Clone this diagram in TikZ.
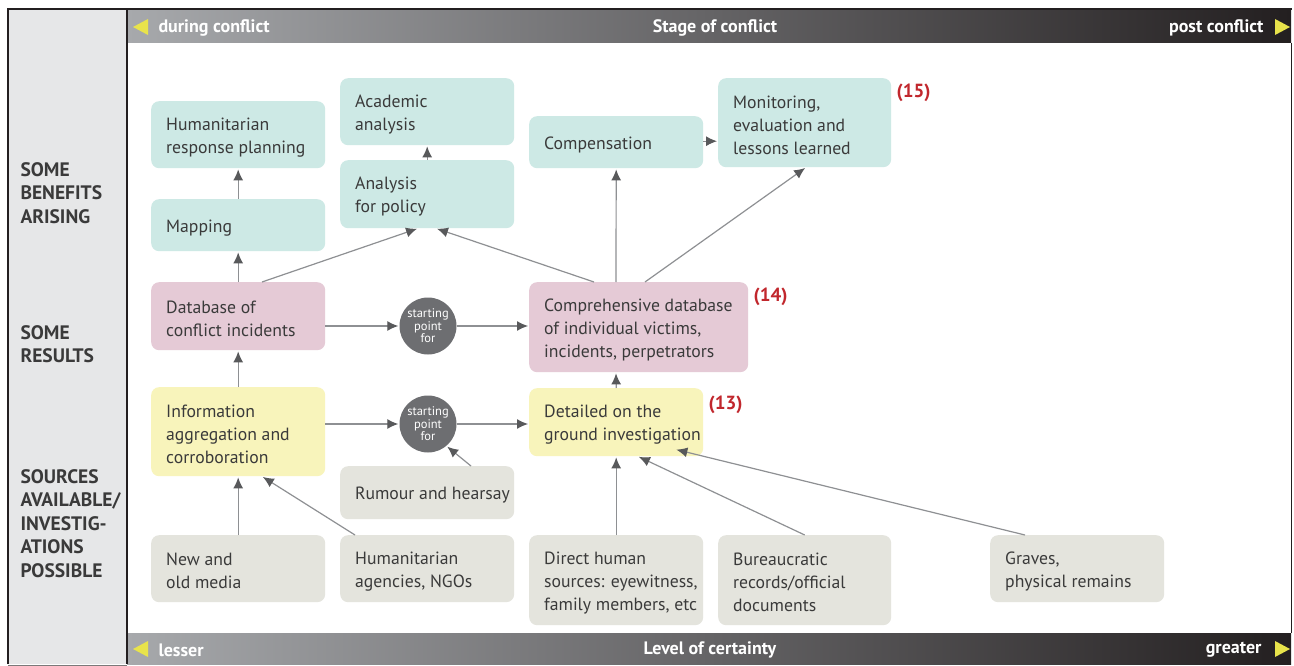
\documentclass[tikz,border=0pt]{standalone}
\usepackage{fontspec}
\setmainfont{PT Sans}
\usetikzlibrary{arrows.meta,calc}
\definecolor{tealbox}{HTML}{CDE9E5}
\definecolor{pinkbox}{HTML}{E5CAD6}
\definecolor{yelbox}{HTML}{F8F4BB}
\definecolor{graybox}{HTML}{E4E4DD}
\definecolor{txt}{HTML}{3A3A3A}
\definecolor{arrc}{HTML}{8E9093}
\definecolor{arrh}{HTML}{58595B}
\definecolor{circc}{HTML}{6D6E71}
\definecolor{panel}{HTML}{E6E7E8}
\definecolor{redlab}{HTML}{C1272D}
\definecolor{yeltri}{HTML}{E8E34B}
\definecolor{barl}{HTML}{A7A9AC}
\definecolor{barr}{HTML}{231F20}
\tikzset{
  bx/.style={rounded corners=8pt, inner sep=0pt, anchor=north west},
  btxt/.style={anchor=west, inner sep=0pt, align=left, font=\fontsize{17.7}{23}\selectfont, text=txt},
  circ/.style={circle, fill=circc, minimum size=57pt, inner sep=0pt, align=center, text=white,
    font=\fontsize{12.5}{12.5}\selectfont},
  arr/.style={draw=arrc, line width=1.2pt, -{Latex[length=11pt,width=10pt,color=arrh]}, shorten >=1pt},
  side/.style={anchor=north west, align=left, font=\bfseries\fontsize{19.5}{23.5}\selectfont, text=txt},
  bartxt/.style={font=\bfseries\fontsize{18}{20}\selectfont, text=white},
  num/.style={anchor=west, font=\bfseries\fontsize{19}{20}\selectfont, text=redlab}
}
\newcommand\bxn[7]{%
  \node[bx, fill=#2, minimum width=#5pt, minimum height=#6pt] (#1) at (#3,#4) {};
  \node[btxt] (#1-t) at ($(#1.west)+(15,2.5)$) {#7};}
\begin{document}
\begin{tikzpicture}[x=1pt,y=-1pt]
\useasboundingbox (0,0) rectangle (1294,666);
% frame
\fill[panel] (8,9) rectangle (127,664);
\fill[white] (127,43) rectangle (1291,633);
\shade[left color=barl, right color=barr] (127,9) rectangle (1291,43);
\shade[left color=barl, right color=barr] (127,633) rectangle (1291,664);
\draw[barr, line width=2pt] (8,664) -- (8,9) -- (1292,9);
\draw[barr, line width=1.5pt] (127,9) -- (127,664);
\draw[barr, line width=1pt] (1291,43) -- (1291,633);
\draw[barr!60, line width=1pt] (8,665) -- (127,665);
% bar texts
\fill[yeltri] (133,27) -- (148,19) -- (148,35) -- cycle;
\fill[yeltri] (1290,27) -- (1275,19) -- (1275,35) -- cycle;
\node[bartxt, anchor=west] (dc) at (155,28) {during conflict};
\node[bartxt] (sc) at (715,28) {Stage of conflict};
\node[bartxt, anchor=east] (pc) at (1267,28) {post conflict};
\fill[yeltri] (133,649) -- (148,641) -- (148,657) -- cycle;
\fill[yeltri] (1290,649) -- (1275,641) -- (1275,657) -- cycle;
\node[bartxt, anchor=west] (ls) at (155,650) {lesser};
\node[bartxt] (lc) at (710,650) {Level of certainty};
\node[bartxt, anchor=east] (gr) at (1265,650) {greater};
% side labels
\node[side] (s1) at (17,159) {SOME\\BENEFITS\\ARISING};
\node[side] (s2) at (17,322) {SOME\\RESULTS};
\node[side] (s3) at (17,466) {SOURCES\\AVAILABLE/\\INVESTIG-\\ATIONS\\POSSIBLE};
% benefits
\bxn{hum}{tealbox}{151}{101}{174}{67}{Humanitarian\\response planning}
\bxn{map}{tealbox}{151}{199}{174}{52}{Mapping}
\bxn{acad}{tealbox}{340}{78}{174}{67}{Academic\\analysis}
\bxn{pol}{tealbox}{340}{160}{174}{68}{Analysis\\for policy}
\bxn{cmp}{tealbox}{529}{116}{174}{52}{Compensation}
\bxn{mon}{tealbox}{718}{78}{173}{89}{Monitoring,\\evaluation and\\lessons learned}
% results
\bxn{db}{pinkbox}{151}{282}{174}{68}{Database of\\conflict incidents}
\bxn{cdb}{pinkbox}{529}{282}{219}{90}{Comprehensive database\\of individual victims,\\incidents, perpetrators}
\node[circ] (c1) at (428,326) {starting\\point\\for};
% sources row
\bxn{info}{yelbox}{151}{387}{174}{89}{Information\\aggregation and\\corroboration}
\node[circ] (c2) at (428,424) {starting\\point\\for};
\bxn{det}{yelbox}{529}{388}{174}{68}{Detailed on the\\ground investigation}
\bxn{rum}{graybox}{340}{466}{174}{53}{Rumour and hearsay}
\bxn{med}{graybox}{151}{535}{174}{67}{New and\\old media}
\bxn{hag}{graybox}{340}{535}{174}{67}{Humanitarian\\agencies, NGOs}
\bxn{dir}{graybox}{529}{535}{174}{90}{Direct human\\sources: eyewitness,\\family members, etc}
\bxn{bur}{graybox}{718}{535}{173}{90}{Bureaucratic\\records/official\\documents}
\bxn{grv}{graybox}{990}{535}{174}{67}{Graves,\\physical remains}
% numbers
\node[num] (n15) at (893,93) {(15)};
\node[num] (n14) at (750,297) {(14)};
\node[num] (n13) at (705,405) {(13)};
% arrows
\draw[arr] (map.north) -- (hum.south);
\draw[arr] (db.north) -- (map.south);
\draw[arr] ($(db.north west)+(111,0)$) -- ($(pol.south west)+(78,0)$);
\draw[arr] (pol.north) -- (acad.south);
\draw[arr] ($(cdb.north west)+(65,0)$) -- ($(pol.south west)+(96,0)$);
\draw[arr] ($(cdb.north west)+(87,0)$) -- (cmp.south);
\draw[arr] ($(cdb.north west)+(116,0)$) -- ($(mon.south west)+(88,0)$);
\draw[arr] ($(cmp.east)+(0,-1)$) -- ($(cmp.east -| mon.west)+(0,-1)$);
\draw[arr] (c1 -| db.east) -- (c1.west);
\draw[arr] (c1.east) -- (c1.east -| cdb.west);
\draw[arr] (info.north) -- (db.south);
\draw[arr] (c2 -| info.east) -- (c2.west);
\draw[arr] (c2.east) -- (c2.east -| det.west);
\draw[arr] ($(rum.north west)+(131,0)$) -- (c2.-50);
\draw[arr] (det.north) -- ($(cdb.south west)+(87,0)$);
\draw[arr] (med.north) -- (info.south);
\draw[arr] ($(hag.north west)+(15,0)$) -- ($(info.south west)+(111,0)$);
\draw[arr] (dir.north) -- (det.south);
\draw[arr] (bur.north) -- ($(det.south west)+(109,0)$);
\draw[arr] ($(grv.north west)+(35,0)$) -- ($(det.south east)+(-28,-7)$);
\end{tikzpicture}
\end{document}
